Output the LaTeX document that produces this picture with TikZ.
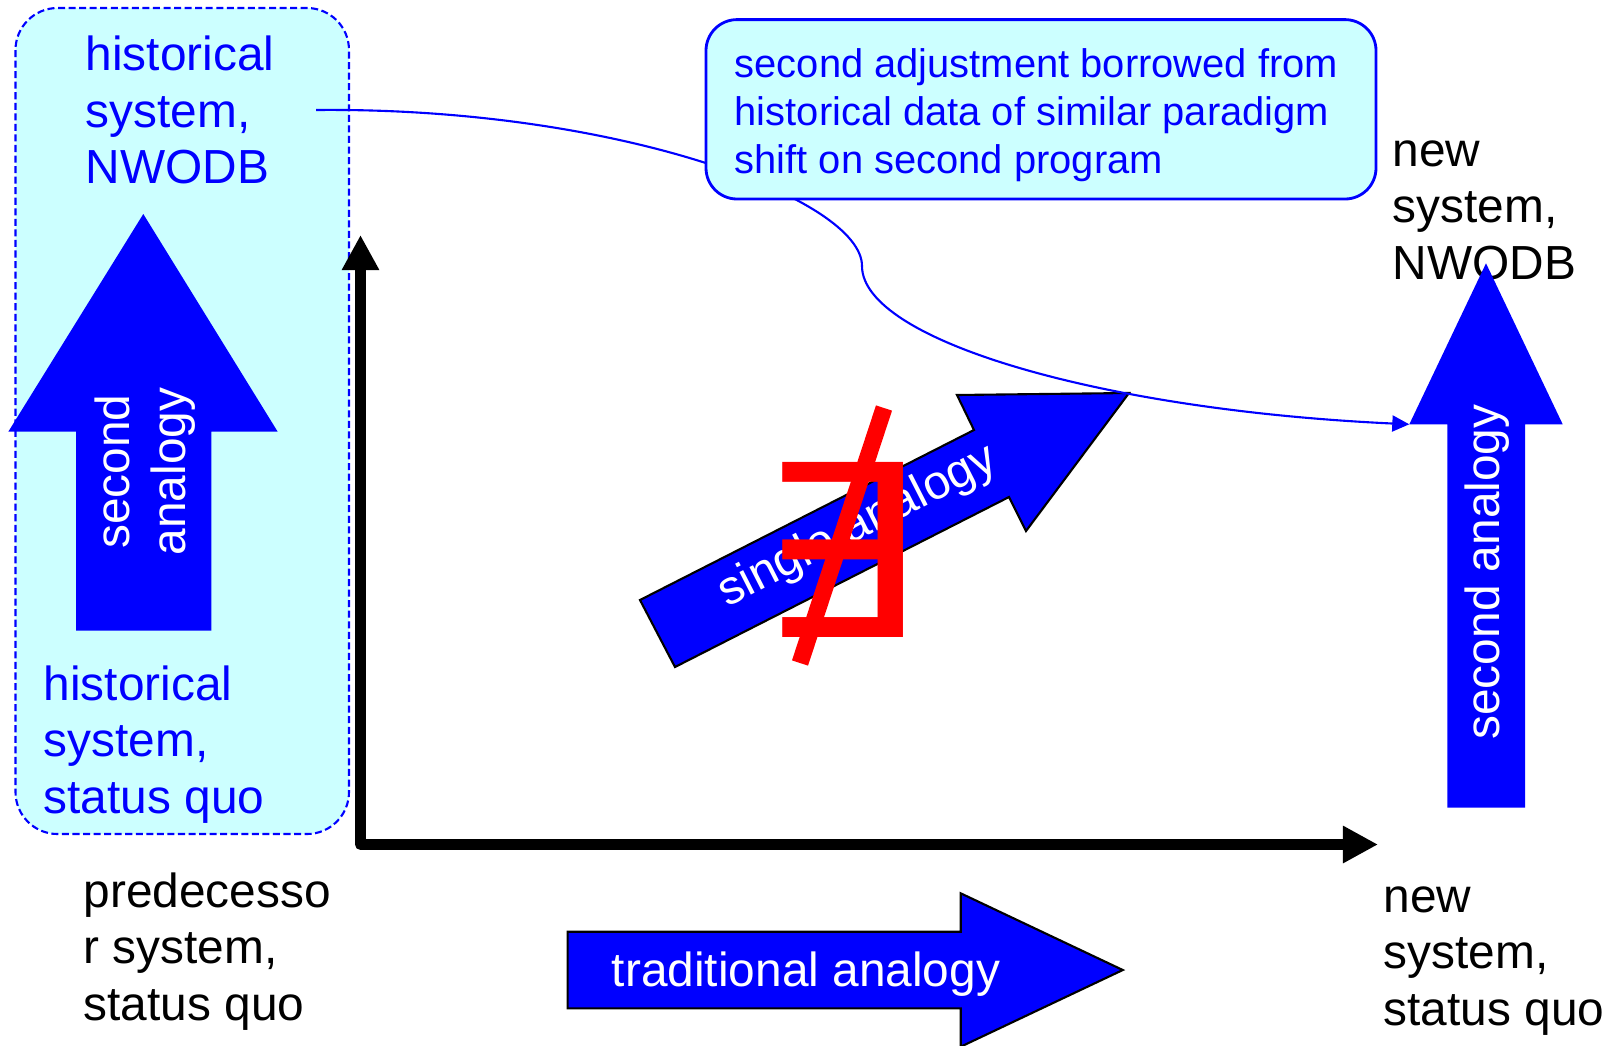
\documentclass[tikz,border=0pt]{standalone}
\usepackage{tikz}
\usepackage{fontspec}
\setmainfont{Liberation Sans}
\newfontfamily\signfont{DejaVu Sans}
\usetikzlibrary{arrows.meta, positioning}
\definecolor{pureblue}{RGB}{0, 0, 255}
\definecolor{palecyan}{RGB}{204, 255, 255}
\definecolor{signred}{RGB}{255, 0, 0}

\tikzset{
  sketchlabel/.style={font=\fontsize{13.6}{16.1}\selectfont, align=left, inner sep=0pt, anchor=west},
  arrowlabel/.style={font=\fontsize{13.6}{16.1}\selectfont, text=white, align=center, inner sep=0pt},
  blockarrow/.style={fill=pureblue},
  framedarrow/.style={fill=pureblue, draw=black, line width=0.6pt},
  axisline/.style={line width=3.2pt, line join=round, {Triangle[length=0.35cm, width=0.35cm]}-{Triangle[length=0.35cm, width=0.35cm]}},
  adjustlink/.style={draw=pureblue, line width=0.6pt, -{Triangle[length=0.17cm, width=0.16cm]}},
}

\begin{document}
\begin{tikzpicture}[x=0.01cm, y=-0.01cm]
  \useasboundingbox (0,0) rectangle (1618,1045);

  % Historical frame
  \draw[draw=pureblue, fill=palecyan, line width=0.6pt, dash pattern=on 2pt off 1pt, rounded corners=0.42cm] (15.5,8) rectangle (349,834);
  \node[sketchlabel, text=pureblue] (histnew) at (85,110) {historical\\system,\\NWODB};
  \node[sketchlabel, text=pureblue] (histold) at (43,744.5) {historical\\system,\\status quo};
  \fill[blockarrow] (143.3,214) -- (277.7,431.7) -- (211.3,431.7) -- (211.3,630.7) -- (76,630.7) -- (76,431.7) -- (8.3,431.7) -- cycle;
  \node[arrowlabel, rotate=90] (secondleft) at (145,471.5) {second\\analogy};

  % Axes
  \coordinate (ytip) at (360.5,235);
  \coordinate (origin) at (360.5,844.5);
  \coordinate (xtip) at (1378,844.5);
  \draw[axisline] (ytip) -- (origin) -- (xtip);

  % Corner labels
  \node[sketchlabel] (predold) at (83,951.5) {predecesso\\r system,\\status quo};
  \node[sketchlabel] (newold) at (1383,961) {new\\system,\\status quo};
  \node[sketchlabel] (newnwodb) at (1392,210) {new\\system,\\NWODB};

  % Traditional analogy
  \filldraw[framedarrow] (567.6,931.7) -- (960.7,931.7) -- (960.7,893.3) -- (1122.8,970) -- (960.7,1046.7) -- (960.7,1008.3) -- (567.6,1008.3) -- cycle;
  \node[arrowlabel] (tradlbl) at (806,974) {traditional analogy};

  % Single analogy, crossed out
  \filldraw[framedarrow] (640,600) -- (974,430) -- (957,395) -- (1129,393) -- (1026,531) -- (1009,497) -- (675,667) -- cycle;
  \node[arrowlabel, rotate=27] (singlelbl) at (858,527) {single analogy};
  \node[font=\signfont\fontsize{68.3}{70}\selectfont, text=signred, inner sep=0pt, anchor=base, xscale=1.07] (exists) at (839,637) {∃};
  \draw[signred, line width=4.8pt] (884,408) -- (800,663);

  % Second analogy on the new system
  \coordinate (headcorner) at (1409.3,424.3);
  \draw[adjustlink] ([xshift=0.41cm]histnew.east) .. controls (620,107) and (862,200) .. (862,266) .. controls (862,340) and (1100,410) .. (headcorner);
  \fill[blockarrow] (1486,263.3) -- (1562.7,424.3) -- (1525,424.3) -- (1525,807.7) -- (1447.3,807.7) -- (1447.3,424.3) -- (headcorner) -- cycle;
  \node[arrowlabel, rotate=90] (secondright) at (1487,572) {second analogy};

  % Adjustment note
  \draw[draw=pureblue, fill=palecyan, line width=0.8pt, rounded corners=0.31cm] (706,19.6) rectangle (1376,199);
  \node[text=pureblue, font=\fontsize{11.35}{13.6}\selectfont, align=left, inner sep=0pt, anchor=north west] (adjustnote) at (734,48) {second adjustment borrowed from\\historical data of similar paradigm\\shift on second program};
\end{tikzpicture}
\end{document}
